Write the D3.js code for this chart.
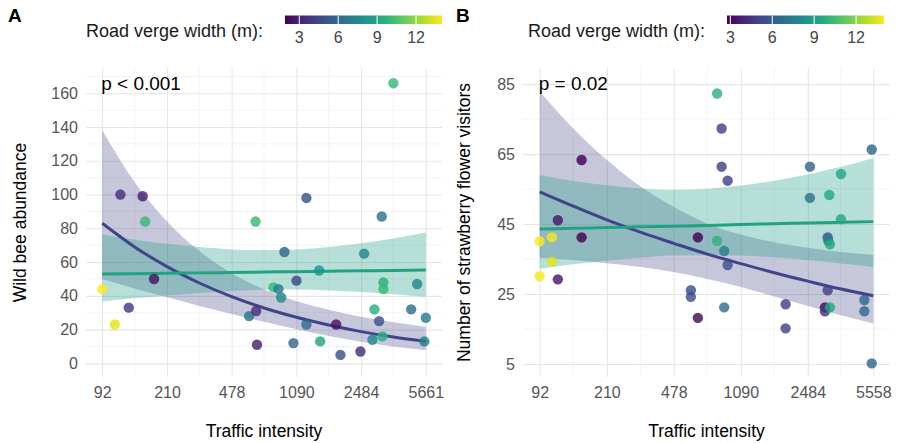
<!DOCTYPE html>
<html>
<head>
<meta charset="utf-8">
<script src="https://cdn.jsdelivr.net/npm/d3@7"></script>
<style>
  body { margin: 0; background: #fff; }
  svg { font-family: "Liberation Sans", Arial, sans-serif; }
</style>
</head>
<body>
<svg id="chart" width="897" height="443"></svg>
<script>
// ---- data ----
var xTicksA = [92, 210, 478, 1090, 2484, 5661];
var yTicksA = [0, 20, 40, 60, 80, 100, 120, 140, 160];
var xTicksB = [92, 210, 478, 1090, 2484, 5558];
var yTicksB = [5, 25, 45, 65, 85];
var legendTicks = [3, 6, 9, 12];

// panel A: wild bees
var trafficA = [116, 154, 159, 92, 108, 129, 178, 648, 597, 653, 660, 3746, 1238, 3229, 936, 2581, 1456, 1091, 814, 867, 898, 3300, 3300, 5070, 2944, 4695, 5661, 3124, 1238, 1808, 2870, 3258, 5557, 1050, 1475, 1910, 2463];
var beesA    = [100, 99, 84, 44, 23, 33, 50, 84, 28, 31, 11, 166, 98, 87, 66, 65, 55, 49, 45, 44, 39, 48, 44, 47, 32, 32, 27, 25, 23, 23, 14, 16, 13, 12, 13, 5, 7];
var vergeA   = [3.5, 3, 10, 14, 13.5, 4, 2.5, 10, 6.5, 3.5, 3, 10, 5, 6.5, 6, 7.5, 8, 4.5, 10, 7, 7.5, 9.5, 10, 7.5, 9.5, 6.5, 7, 5, 6, 2.5, 7.5, 9.5, 7, 6, 9, 5, 3.5];

var fitXA   = [92, 139, 210, 317, 478, 722, 1090, 1646, 2484, 3750, 5661];
var fit1A   = [83.0, 69.0, 57.3, 47.6, 39.5, 32.8, 27.3, 22.7, 18.8, 15.6, 13.0];
var fit1LoA = [49.9, 44.3, 39.1, 34.0, 29.2, 24.6, 20.2, 16.2, 12.8, 10.0, 7.8];
var fit1HiA = [138.1, 107.4, 84.1, 66.5, 53.4, 43.8, 36.9, 31.7, 27.6, 24.3, 21.6];
var fit2A   = [52.9, 53.1, 53.4, 53.6, 53.8, 54.1, 54.3, 54.6, 54.8, 55.0, 55.3];
var fit2LoA = [36.7, 38.5, 40.2, 41.7, 42.9, 43.6, 43.7, 43.2, 42.2, 40.9, 39.4];
var fit2HiA = [76.3, 73.3, 70.9, 68.9, 67.5, 67.1, 67.5, 69.0, 71.2, 74.0, 77.5];

// panel B: strawberry flower visitors
var trafficB  = [154, 115, 92, 107, 154, 107, 92, 115, 590, 590, 643, 643, 815, 889, 927, 889, 1891, 1891, 3172, 3195, 3262, 3735, 3172, 3067, 3067, 3262, 4977, 4977, 5450, 815, 861, 861, 927, 2550, 5450, 3735, 2550, 3234];
var visitsB   = [63.3, 46.1, 40.1, 41.2, 41.2, 34.2, 30.1, 29.2, 26.1, 24.2, 18.2, 41.2, 40.2, 37.3, 33.3, 21.2, 22.1, 15.2, 41.2, 40.2, 39.2, 46.4, 26.1, 21.2, 20.1, 21.2, 23.3, 20.1, 5.2, 82.3, 72.3, 61.4, 57.4, 61.4, 66.3, 59.3, 52.5, 53.3];
var vergeB    = [2.8, 3.5, 14, 13.8, 2.8, 13.5, 13.8, 3.5, 5.5, 5.5, 3, 2.8, 10, 7.5, 5.5, 7, 5, 5, 5.5, 7.5, 9.5, 9.5, 5, 3, 4.5, 9.5, 6.5, 6.5, 6.5, 10, 5, 5, 5, 6.5, 6.5, 9.5, 7, 9.5];

var fitXB   = [92, 139, 210, 317, 478, 722, 1090, 1646, 2484, 3687, 5558];
var fit1B   = [54.2, 50.1, 46.2, 42.7, 39.5, 36.4, 33.7, 31.1, 28.7, 26.5, 24.5];
var fit1LoB = [35.4, 34.7, 33.8, 32.7, 31.3, 29.3, 27.0, 24.3, 21.6, 19.0, 16.6];
var fit1HiB = [82.9, 72.3, 63.3, 55.8, 49.9, 45.2, 42.0, 39.8, 38.2, 37.0, 36.2];
var fit2B   = [43.6, 43.8, 44.0, 44.2, 44.4, 44.6, 44.9, 45.1, 45.3, 45.5, 45.7];
var fit2LoB = [32.2, 33.5, 34.5, 35.4, 36.0, 36.1, 36.0, 35.5, 34.7, 33.8, 32.7];
var fit2HiB = [59.0, 57.3, 56.1, 55.2, 54.8, 55.1, 56.0, 57.4, 59.2, 61.3, 63.9];

var col1 = "#414487", col2 = "#22a185";
var svg = d3.select("#chart");
var gid = 0;

function drawPanel(o) {
  var g = svg.append("g");
  var top = 68, bottom = 377;
  var inset = (o.right - o.left) * 0.05 / 1.1;

  var x = d3.scaleLog().domain([o.xTicks[0], o.xTicks[o.xTicks.length - 1]])
    .range([o.left + inset, o.right - inset]);
  var y = d3.scaleLinear().domain(o.yDomain).range([bottom, top]);
  var color = d3.scaleSequential(d3.interpolateViridis).domain(o.vDomain);

  // minor grid
  var xMinor = d3.pairs(o.xTicks).map(function(p){ return Math.sqrt(p[0] * p[1]); });
  var yStep = o.yTicks[1] - o.yTicks[0];
  var yMinor = [];
  for (var v = o.yTicks[0] - yStep / 2; v < o.yDomain[1]; v += yStep) {
    if (v > o.yDomain[0]) yMinor.push(v);
  }
  g.selectAll(".vminor").data(xMinor).enter().append("line")
    .attr("x1", x).attr("x2", x).attr("y1", top).attr("y2", bottom)
    .attr("stroke", "#ececec").attr("stroke-width", 0.6);
  g.selectAll(".hminor").data(yMinor).enter().append("line")
    .attr("x1", o.left).attr("x2", o.right).attr("y1", y).attr("y2", y)
    .attr("stroke", "#ececec").attr("stroke-width", 0.6);

  // major grid via axes
  var xAxis = g.append("g").attr("transform", "translate(0," + bottom + ")")
    .call(d3.axisBottom(x).tickValues(o.xTicks).tickFormat(d3.format("d"))
      .tickSize(-(bottom - top)).tickPadding(10));
  var yAxis = g.append("g").attr("transform", "translate(" + o.left + ",0)")
    .call(d3.axisLeft(y).tickValues(o.yTicks).tickSize(-(o.right - o.left)).tickPadding(8));
  [xAxis, yAxis].forEach(function(a){
    a.select(".domain").remove();
    a.selectAll(".tick line").attr("stroke", "#e6e6e6").attr("stroke-width", 1.1);
    a.selectAll(".tick text").attr("fill", "#555").style("font-size", "16px");
  });

  // ribbons + lines
  var area = d3.area().curve(d3.curveMonotoneX)
    .x(function(d){ return x(d.x); }).y0(function(d){ return y(d.lo); }).y1(function(d){ return y(d.hi); });
  var line = d3.line().curve(d3.curveMonotoneX)
    .x(function(d){ return x(d.x); }).y(function(d){ return y(d.fit); });
  function rows(fit, lo, hi) {
    return o.fitX.map(function(v, i){ return {x: v, fit: fit[i], lo: lo[i], hi: hi[i]}; });
  }
  var s1 = rows(o.fit1, o.fit1Lo, o.fit1Hi), s2 = rows(o.fit2, o.fit2Lo, o.fit2Hi);
  g.append("path").datum(s1).attr("d", area).attr("fill", col1).attr("fill-opacity", 0.3);
  g.append("path").datum(s2).attr("d", area).attr("fill", col2).attr("fill-opacity", 0.33);

  var pts = o.xs.map(function(v, i){ return {x: v, y: o.ys[i], c: o.vs[i]}; });

  g.append("path").datum(s1).attr("d", line).attr("fill", "none").attr("stroke", col1).attr("stroke-width", 3);
  g.append("path").datum(s2).attr("d", line).attr("fill", "none").attr("stroke", col2).attr("stroke-width", 3);

  g.selectAll(".pt").data(pts).enter().append("circle")
    .attr("cx", function(d){ return x(d.x); })
    .attr("cy", function(d){ return y(d.y); })
    .attr("r", 5.2)
    .attr("fill", function(d){ return color(d.c); })
    .attr("fill-opacity", 0.82);

  // p value
  g.append("text").attr("x", o.left + inset - 1).attr("y", 90)
    .style("font-size", "19px").text(o.pText);

  // axis titles
  g.append("text").attr("x", (o.left + o.right) / 2).attr("y", 437)
    .attr("text-anchor", "middle").style("font-size", "17.5px").text("Traffic intensity");
  g.append("text").attr("transform", "translate(" + o.yTitleX + "," + ((top + bottom) / 2) + ") rotate(-90)")
    .attr("text-anchor", "middle").style("font-size", "17.5px").text(o.yTitle);

  // panel letter
  g.append("text").attr("x", o.letterX).attr("y", 22)
    .style("font-size", "19px").style("font-weight", "bold").text(o.letter);

  // colour legend
  var lx = d3.scaleLinear().domain(o.vDomain).range([o.barX, o.barX + 157]);
  var id = "grad" + (gid++);
  var grad = svg.append("defs").append("linearGradient").attr("id", id);
  d3.range(0, 1.0001, 0.1).forEach(function(t){
    grad.append("stop").attr("offset", t).attr("stop-color", d3.interpolateViridis(t));
  });
  g.append("rect").attr("x", o.barX).attr("y", 15.5).attr("width", 157).attr("height", 8.5)
    .attr("fill", "url(#" + id + ")");
  g.selectAll(".lt").data(legendTicks).enter().append("line")
    .attr("x1", lx).attr("x2", lx).attr("y1", 15.5).attr("y2", 24)
    .attr("stroke", "#fff").attr("stroke-width", 1);
  g.selectAll(".ll").data(legendTicks).enter().append("text")
    .attr("x", lx).attr("y", 43).attr("text-anchor", "middle")
    .attr("fill", "#444").style("font-size", "16px").text(function(d){ return d; });
  g.append("text").attr("x", o.barX - 22).attr("y", 37).attr("text-anchor", "end")
    .style("font-size", "18px").attr("fill", "#1a1a1a").text("Road verge width (m):");
}

drawPanel({
  left: 86, right: 442, yDomain: [-8.1, 175], vDomain: [1.9, 14],
  xTicks: xTicksA, yTicks: yTicksA,
  xs: trafficA, ys: beesA, vs: vergeA,
  fitX: fitXA, fit1: fit1A, fit1Lo: fit1LoA, fit1Hi: fit1HiA,
  fit2: fit2A, fit2Lo: fit2LoA, fit2Hi: fit2HiA,
  pText: "p < 0.001", yTitle: "Wild bee abundance", yTitleX: 26,
  letter: "A", letterX: 8, barX: 285
});

drawPanel({
  left: 523, right: 890, yDomain: [1.3, 89.6], vDomain: [2.76, 14],
  xTicks: xTicksB, yTicks: yTicksB,
  xs: trafficB, ys: visitsB, vs: vergeB,
  fitX: fitXB, fit1: fit1B, fit1Lo: fit1LoB, fit1Hi: fit1HiB,
  fit2: fit2B, fit2Lo: fit2LoB, fit2Hi: fit2HiB,
  pText: "p = 0.02", yTitle: "Number of strawberry flower visitors", yTitleX: 470,
  letter: "B", letterX: 456, barX: 727
});
</script>
</body>
</html>
